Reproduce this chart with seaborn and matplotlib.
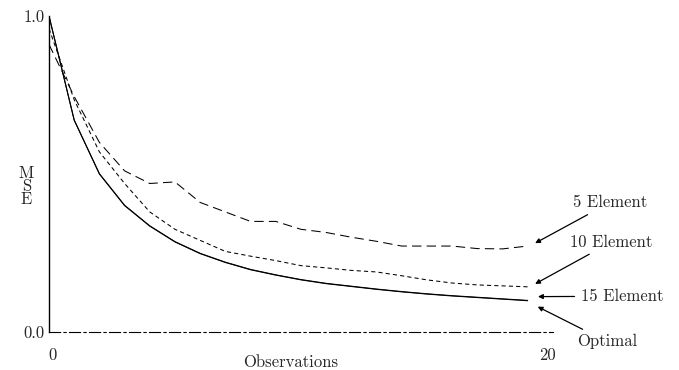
import numpy as np
import pandas as pd
import seaborn as sns
from matplotlib import pyplot as plt

# values
observations = list(range(20))
optimal = [1.0, 0.67, 0.50, 0.40, 0.335, 0.285, 0.248, 0.22, 0.197, 0.18,
           0.165, 0.153, 0.144, 0.135, 0.127, 0.12, 0.114, 0.109, 0.104, 0.099]
element_15 = [1.0, 0.671, 0.501, 0.401, 0.336, 0.286, 0.249, 0.221, 0.198, 0.181,
              0.166, 0.154, 0.145, 0.136, 0.128, 0.121, 0.115, 0.110, 0.105, 0.100]
element_10 = [0.96, 0.735, 0.57, 0.47, 0.38, 0.325, 0.29, 0.255, 0.24, 0.226,
              0.21, 0.203, 0.195, 0.19, 0.178, 0.165, 0.155, 0.149, 0.146, 0.143]
element_5 = [0.91, 0.745, 0.60, 0.51, 0.47, 0.475, 0.41, 0.38, 0.35, 0.35,
             0.325, 0.315, 0.30, 0.287, 0.272, 0.272, 0.272, 0.264, 0.263, 0.272]
series_names = ["5 Element", "10 Element", "15 Element", "Optimal"]

df = pd.DataFrame({
    "Observations": observations * 4,
    "MSE": element_5 + element_10 + element_15 + optimal,
    "series": np.repeat(series_names, len(observations)),
})

sns.set_style("white")
plt.rcParams["font.family"] = ["cmr10", "Liberation Serif", "DejaVu Serif"]
plt.rcParams["axes.formatter.use_mathtext"] = True
fs = 12

fig = plt.figure(figsize=(6.79, 3.70), dpi=100)
ax = fig.add_axes([0.0722, 0.1027, 0.742, 0.854])

sns.lineplot(data=df, x="Observations", y="MSE", style="series", hue="series",
             palette={s: "black" for s in series_names},
             dashes={"5 Element": (9, 5), "10 Element": (4, 3),
                     "15 Element": "", "Optimal": ""},
             linewidth=0.75, legend=False, ax=ax)

ax.set_xlim(0, 20)
ax.set_ylim(0, 1)
for side in ["top", "right"]:
    ax.spines[side].set_visible(False)
ax.spines["left"].set_color("black")
ax.spines["left"].set_linewidth(1.0)
ax.spines["bottom"].set_color("black")
ax.spines["bottom"].set_linewidth(0.8)
ax.spines["bottom"].set_linestyle((0, (10, 3, 2, 3)))

ax.set_yticks([0, 1])
ax.set_yticklabels(["0.0", "1.0"], fontsize=fs)
ax.set_xticks([0.15, 19.8])
ax.set_xticklabels(["0", "20"], fontsize=fs)
ax.tick_params(length=0, pad=11, axis="x")
ax.tick_params(length=0, pad=3, axis="y")
ax.set_xlabel("")
ax.set_ylabel("")
fig.text(291 / 679, 1 - 362 / 370, "Observations", fontsize=fs,
         ha="center", va="center")
ax.text(-0.045, 0.46, "M\nS\nE", transform=ax.transAxes, fontsize=fs,
        ha="center", va="center", linespacing=0.8)

# labels with arrows at the right end of the curves
arrow = dict(arrowstyle="-|>", color="black", lw=0.9, mutation_scale=7)
ax.annotate("5 Element", xy=(19.2, element_5[-1] + 0.005), xytext=(20.8, 0.41),
            fontsize=fs, va="center", arrowprops=arrow, annotation_clip=False)
ax.annotate("10 Element", xy=(19.2, element_10[-1] + 0.005), xytext=(20.7, 0.285),
            fontsize=fs, va="center", arrowprops=arrow, annotation_clip=False)
ax.annotate("15 Element", xy=(19.3, element_15[-1] + 0.012), xytext=(21.1, 0.113),
            fontsize=fs, va="center", arrowprops=arrow, annotation_clip=False)
ax.annotate("Optimal", xy=(19.3, optimal[-1] - 0.015), xytext=(20.95, -0.03),
            fontsize=fs, va="center", arrowprops=arrow, annotation_clip=False)

fig.savefig("out.png", dpi=100)
